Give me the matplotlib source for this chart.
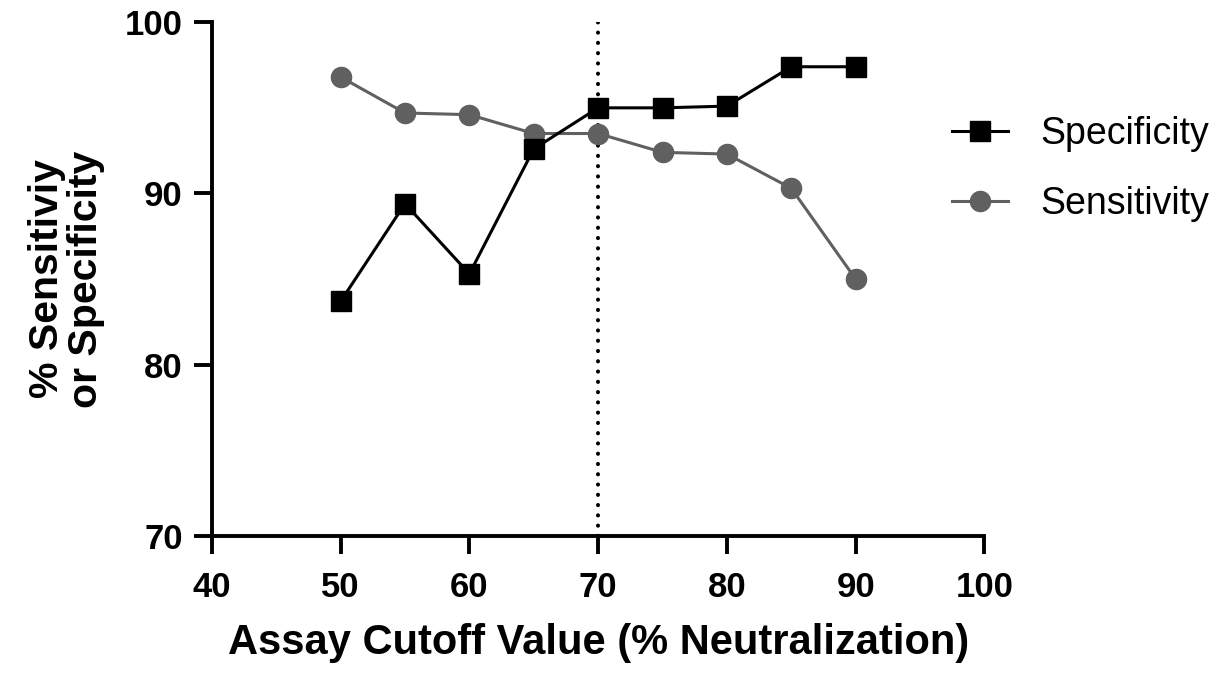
import numpy as np
import matplotlib
matplotlib.use('Agg')
import matplotlib.pyplot as plt

cutoff = [50, 55, 60, 65, 70, 75, 80, 85, 90]
specificity = [83.7, 89.4, 85.3, 92.6, 95.0, 95.0, 95.1, 97.4, 97.4]
sensitivity = [96.8, 94.7, 94.6, 93.5, 93.5, 92.4, 92.3, 90.3, 85.0]
x_ticks = [40, 50, 60, 70, 80, 90, 100]
y_ticks = [70, 80, 90, 100]
chosen_cutoff = 70

plt.rcParams['font.family'] = ['Liberation Sans', 'DejaVu Sans']

fig = plt.figure(figsize=(12.32, 6.74), dpi=100)
ax = fig.add_axes([0.172, 0.205, 0.627, 0.762])

# dotted line at the chosen cutoff
ax.axvline(chosen_cutoff, color='black', lw=2.9,
           linestyle=(0, (0.05, 2.5)), dash_capstyle='round', zorder=1)

ax.plot(cutoff, specificity, color='black', lw=2.2, marker='s',
        markersize=15, label='Specificity', zorder=3)
ax.plot(cutoff, sensitivity, color='#606060', lw=2.2, marker='o',
        markersize=14.5, label='Sensitivity', zorder=2)

ax.set_xlim(40, 100)
ax.set_ylim(70, 100)
ax.set_xticks(x_ticks)
ax.set_yticks(y_ticks)

for side in ['top', 'right']:
    ax.spines[side].set_visible(False)
for side in ['left', 'bottom']:
    ax.spines[side].set_linewidth(2.8)

ax.tick_params(axis='both', width=2.8, length=13, direction='out',
               labelsize=25)
ax.tick_params(axis='x', pad=12)
ax.tick_params(axis='y', pad=8)
for lbl in ax.get_xticklabels() + ax.get_yticklabels():
    lbl.set_fontweight('bold')

ax.set_xlabel('Assay Cutoff Value (% Neutralization)', fontsize=30,
              fontweight='bold', labelpad=14)
ax.set_ylabel('% Sensitiviy\nor Specificity', fontsize=29.5,
              fontweight='bold', labelpad=14, linespacing=1.05)

leg = fig.legend(loc='upper left', bbox_to_anchor=(952 / 1232, 1 - 116 / 674),
                 frameon=False, fontsize=27, handlelength=1.5,
                 handletextpad=0.85, labelspacing=0.9, borderpad=0,
                 borderaxespad=0)

fig.savefig('out.png', dpi=100)
